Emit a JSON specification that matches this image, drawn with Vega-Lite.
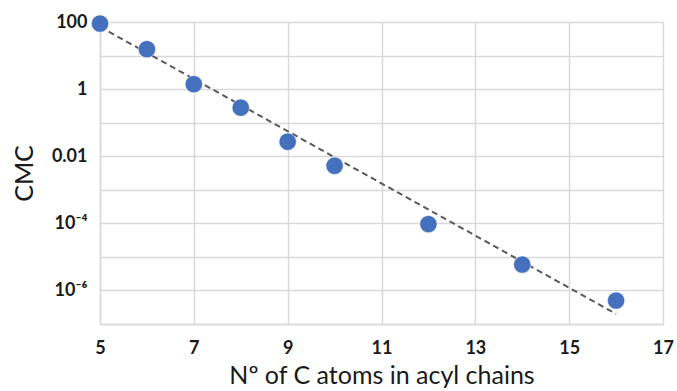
{
  "$schema": "https://vega.github.io/schema/vega-lite/v6.json",
  "autosize": "none",
  "width": 563,
  "height": 302,
  "padding": {"left": 100, "top": 22, "right": 14, "bottom": 67},
  "background": "white",
  "config": {
    "view": {"stroke": null},
    "axis": {
      "labelFont": "Lato",
      "labelFontWeight": "bold",
      "labelFontSize": 18,
      "labelColor": "#1a1a1a",
      "titleFont": "Lato",
      "titleFontWeight": "normal",
      "titleFontSize": 25,
      "titleColor": "#1a1a1a",
      "gridColor": "#d9d9d9",
      "gridWidth": 1.5,
      "domainColor": "#d9d9d9",
      "domainWidth": 1.5,
      "ticks": false
    }
  },
  "datasets": {
    "points": [
      {"carbons": 5, "cmc": 90},
      {"carbons": 6, "cmc": 15.5},
      {"carbons": 7, "cmc": 1.4},
      {"carbons": 8, "cmc": 0.28},
      {"carbons": 9, "cmc": 0.027},
      {"carbons": 10, "cmc": 0.0052},
      {"carbons": 12, "cmc": 0.000095},
      {"carbons": 14, "cmc": 0.0000059},
      {"carbons": 16, "cmc": 0.0000005}
    ],
    "trend": [
      {"carbons": 5, "cmc": 72},
      {"carbons": 16, "cmc": 0.0000002}
    ]
  },
  "layer": [
    {
      "data": {"name": "trend"},
      "mark": {"type": "line", "color": "#595959", "strokeWidth": 2, "strokeDash": [6, 4], "clip": true},
      "encoding": {
        "x": {
          "field": "carbons", "type": "quantitative",
          "scale": {"domain": [5, 17], "nice": false, "zero": false},
          "axis": {
            "values": [5, 7, 9, 11, 13, 15, 17],
            "title": "Nº of C atoms in acyl chains",
            "labelPadding": 15,
            "titlePadding": 6,
            "labelFlush": false
          }
        },
        "y": {
          "field": "cmc", "type": "quantitative",
          "scale": {"type": "log", "domain": [1e-7, 100], "nice": false},
          "axis": {
            "values": [1e-7, 1e-6, 1e-5, 1e-4, 1e-3, 0.01, 0.1, 1, 10, 100],
            "labelExpr": "round(log(datum.value)/LN10) == 2 ? '100' : round(log(datum.value)/LN10) == 0 ? '1' : round(log(datum.value)/LN10) == -2 ? '0.01' : round(log(datum.value)/LN10) == -4 ? '10⁻⁴' : round(log(datum.value)/LN10) == -6 ? '10⁻⁶' : ''",
            "title": "CMC",
            "labelPadding": 13,
            "titlePadding": 14,
            "labelFlush": false
          }
        }
      }
    },
    {
      "data": {"name": "points"},
      "mark": {"type": "circle", "size": 300, "opacity": 1, "color": "#4470BE", "stroke": "white", "strokeWidth": 0.5},
      "encoding": {
        "x": {"field": "carbons", "type": "quantitative"},
        "y": {"field": "cmc", "type": "quantitative"}
      }
    }
  ]
}
